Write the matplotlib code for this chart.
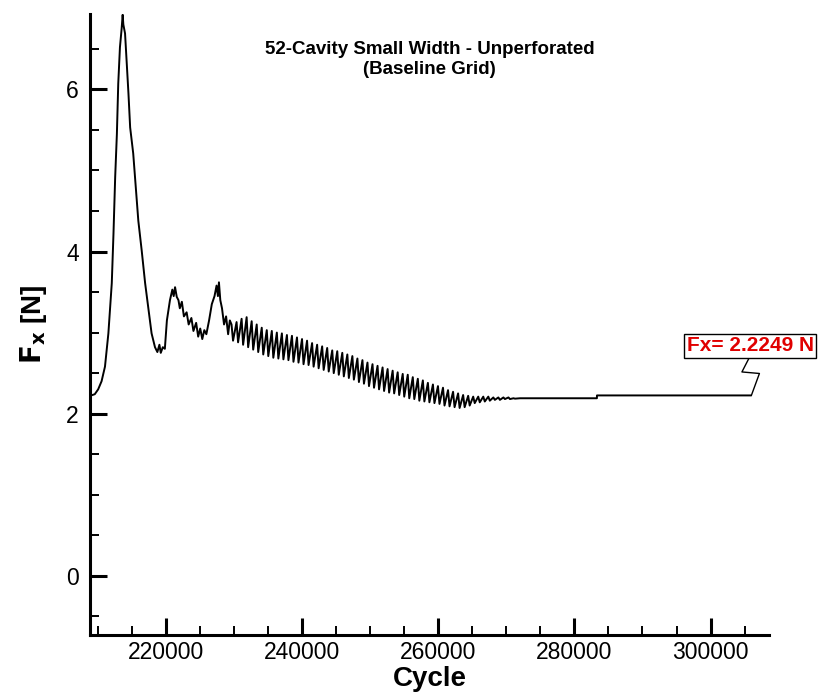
import numpy as np
import matplotlib
matplotlib.use("Agg")
import matplotlib.pyplot as plt
from matplotlib.transforms import Affine2D, ScaledTranslation
from matplotlib.ticker import MultipleLocator

plt.rcParams['font.family'] = ['Liberation Sans', 'DejaVu Sans']

# start-up transient: big overshoot and the two secondary humps
start_cycle = [208800, 209500, 210000, 210500, 211000, 211500, 212000, 212250,
               212500, 212750, 212950, 213200, 213450, 213600, 213700, 213950,
               214200, 214450, 214700, 215150, 215450, 215900, 216400, 216900,
               217400, 217850, 218350, 218700, 219000, 219200, 219500, 219800,
               220100, 220550, 220900, 221100, 221300, 221550, 221800, 222000,
               222300, 222600, 223000, 223300, 223700, 224000, 224400, 224700,
               225000, 225300, 225600, 225900, 226300, 226700, 227100, 227400,
               227600, 227750, 227950, 228200, 228500, 228800, 229100, 229350]
start_fx = [2.22, 2.24, 2.30, 2.40, 2.58, 2.99, 3.61, 4.22,
            4.92, 5.45, 6.07, 6.52, 6.75, 6.92, 6.80, 6.69,
            6.32, 5.95, 5.53, 5.21, 4.88, 4.38, 4.01, 3.61,
            3.28, 2.99, 2.82, 2.76, 2.85, 2.75, 2.82, 2.80,
            3.15, 3.40, 3.53, 3.45, 3.56, 3.44, 3.40, 3.30,
            3.38, 3.20, 3.25, 3.10, 3.18, 3.02, 3.12, 2.95,
            3.05, 2.92, 3.03, 2.98, 3.15, 3.35, 3.45, 3.58,
            3.45, 3.62, 3.40, 3.30, 3.10, 3.20, 2.98, 3.15]

# periodic oscillation: crest and trough of every period
crest_cycle = np.arange(229600, 271100, 740)
crest_fx = [3.10, 3.13, 3.17, 3.19, 3.14, 3.10, 3.06, 3.03, 3.02, 3.00,
            2.99, 2.97, 2.96, 2.94, 2.92, 2.90, 2.87, 2.85, 2.83, 2.81,
            2.78, 2.77, 2.75, 2.73, 2.71, 2.68, 2.66, 2.63, 2.61, 2.59,
            2.57, 2.55, 2.53, 2.51, 2.49, 2.48, 2.45, 2.43, 2.41, 2.38,
            2.36, 2.34, 2.32, 2.29, 2.27, 2.25, 2.23, 2.22, 2.21, 2.21,
            2.21, 2.21, 2.20, 2.20, 2.20, 2.20, 2.19]
trough_fx = [2.90, 2.88, 2.85, 2.82, 2.79, 2.76, 2.73, 2.71, 2.69, 2.68,
             2.67, 2.66, 2.64, 2.63, 2.61, 2.60, 2.58, 2.56, 2.54, 2.52,
             2.50, 2.48, 2.46, 2.44, 2.42, 2.39, 2.37, 2.34, 2.32, 2.30,
             2.28, 2.26, 2.25, 2.23, 2.21, 2.19, 2.18, 2.16, 2.15, 2.14,
             2.13, 2.12, 2.10, 2.09, 2.08, 2.07, 2.08, 2.10, 2.13, 2.14,
             2.15, 2.16, 2.17, 2.17, 2.18, 2.18, 2.185]

# settled tail
tail_cycle = [272000, 283300, 283310, 305860]
tail_fx = [2.19, 2.19, 2.2249, 2.2249]

final_label = "Fx= 2.2249 N"

# interleave crests and troughs: quick drop after each crest, slow recovery
crest_cycle = np.asarray(crest_cycle, dtype=float)
drop = np.diff(crest_cycle).mean() * 0.3
osc_cycle = np.column_stack([crest_cycle, crest_cycle + drop]).ravel()
osc_fx = np.column_stack([crest_fx, trough_fx]).ravel()

cycle = np.concatenate([start_cycle, osc_cycle, tail_cycle])
fx = np.concatenate([start_fx, osc_fx, tail_fx])

fig = plt.figure(figsize=(8.19, 6.92), dpi=100)
ax = fig.add_axes([0.1099, 0.0824, 0.8291, 0.8974])

ax.plot(cycle, fx, color='black', lw=1.4)

ax.set_xlim(208800, 308600)
ax.set_ylim(-0.73, 6.93)

ax.xaxis.set_major_locator(MultipleLocator(20000))
ax.xaxis.set_minor_locator(MultipleLocator(5000))
ax.yaxis.set_major_locator(MultipleLocator(2))
ax.yaxis.set_minor_locator(MultipleLocator(0.5))

for side in ('top', 'right'):
    ax.spines[side].set_visible(False)
for side in ('left', 'bottom'):
    ax.spines[side].set_linewidth(2.2)

ax.tick_params(which='major', direction='in', length=12, width=2.2,
               labelsize=16.5, color='black')
ax.tick_params(which='minor', direction='in', length=6.5, width=1.4)
ax.tick_params(axis='y', which='major', pad=8)
ax.tick_params(axis='x', which='major', pad=4)

ax.set_xlabel('Cycle', fontsize=20, fontweight='bold', labelpad=2)
ax.set_ylabel(r'$\mathbf{F_x}$ [N]', fontsize=20, fontweight='bold', labelpad=12)

ax.text(0.5, 0.957, '52-Cavity Small Width - Unperforated\n(Baseline Grid)',
        transform=ax.transAxes, ha='center', va='top', fontsize=13.5,
        fontweight='bold', linespacing=1.25)

# value label with zig-zag leader, offsets in points from the last point
end_c, end_f = cycle[-1], fx[-1]
pts = Affine2D().scale(fig.dpi / 72) + ScaledTranslation(end_c, end_f, ax.transData)
leader_x = [0.7, 6.5, -6.1, -0.7]
leader_y = [0.0, 15.8, 16.9, 27.4]
ax.plot(leader_x, leader_y, color='black', lw=1.0, transform=pts, clip_on=False)
ax.annotate(final_label, xy=(end_c, end_f), xytext=(-46, 28.8),
            textcoords='offset points', ha='left', va='bottom',
            color='#e00000', fontsize=15, fontweight='bold',
            bbox=dict(boxstyle='square,pad=0.1', fc='white', ec='black', lw=1.0),
            annotation_clip=False)

fig.savefig('out.png', dpi=100)
